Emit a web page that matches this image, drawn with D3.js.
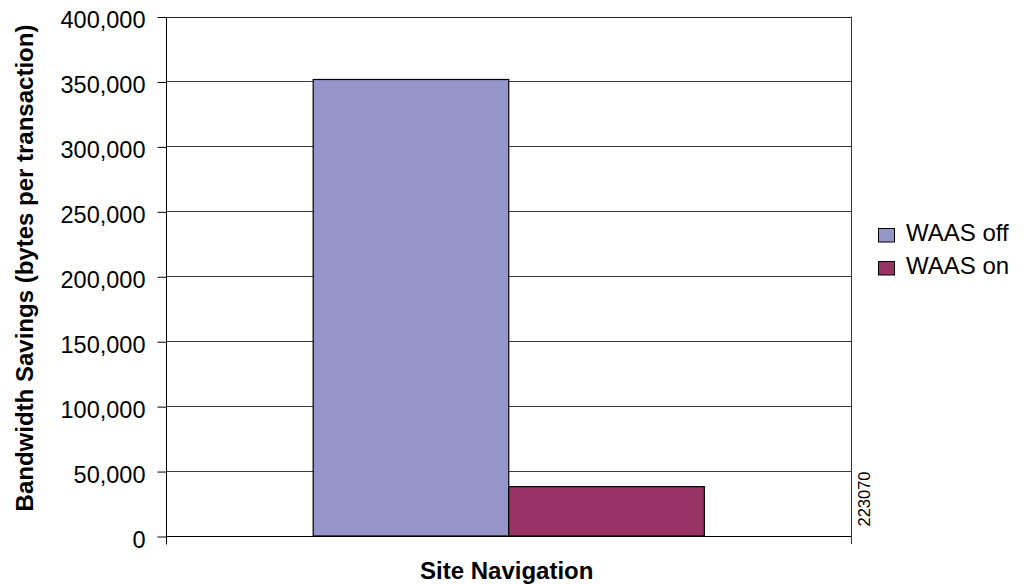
<!DOCTYPE html>
<html>
<head>
<meta charset="utf-8">
<script src="https://cdn.jsdelivr.net/npm/d3@7"></script>
<style>
  html, body { margin: 0; padding: 0; background: #fff; }
  svg { display: block; font-family: "Liberation Sans", Arial, sans-serif; }
</style>
</head>
<body>
<svg id="chart" width="1024" height="584"></svg>
<script>
const categories = ["Site Navigation"];
const seriesNames = ["WAAS off", "WAAS on"];
const seriesColors = ["#9595C9", "#993366"];
const waasOff = [351500];
const waasOn = [38000];
const yTicks = [0, 50000, 100000, 150000, 200000, 250000, 300000, 350000, 400000];
const yTitle = "Bandwidth Savings (bytes per transaction)";
const sideNote = "223070";

const svg = d3.select("#chart");
const L = 166.5, R = 851, T = 16.5, B = 536;

const y = d3.scaleLinear().domain([0, 400000]).range([B, T]);
const x0 = d3.scaleBand().domain(categories).range([L, R]).padding(0);
const x1 = d3.scaleBand().domain(seriesNames).range([0, x0.bandwidth()])
  .paddingInner(0).paddingOuter(0.75);

const data = categories.map((c, i) => ({ cat: c, values: [waasOff[i], waasOn[i]] }));

// gridlines
svg.append("g").selectAll("line").data(yTicks.filter(d => d > 0)).join("line")
  .attr("x1", L).attr("x2", R)
  .attr("y1", d => Math.round(y(d)) + 0.5).attr("y2", d => Math.round(y(d)) + 0.5)
  .attr("stroke", d => d === 400000 ? "#222" : "#3a3a3a").attr("stroke-width", 1);

// right border
svg.append("line").attr("x1", R + 0.5).attr("x2", R + 0.5).attr("y1", T).attr("y2", B + 8)
  .attr("stroke", "#333").attr("stroke-width", 1);

// bars
const g = svg.append("g");
data.forEach(d => {
  g.selectAll(null).data(d.values).join("rect")
    .attr("x", (v, j) => x0(d.cat) + x1(seriesNames[j]))
    .attr("y", v => y(v))
    .attr("width", x1.bandwidth())
    .attr("height", v => B - y(v))
    .attr("fill", (v, j) => seriesColors[j])
    .attr("stroke", "#000").attr("stroke-width", 1.2);
});

// y axis
const yAxis = d3.axisLeft(y).tickValues(yTicks).tickSize(9).tickPadding(12)
  .tickFormat(d3.format(","));
const ya = svg.append("g").attr("transform", `translate(${L},0.5)`).call(yAxis);
ya.select(".domain").attr("stroke", "#000").attr("d", `M0,${T}V${B + 8}`);
ya.selectAll(".tick line").attr("stroke", "#000");
ya.selectAll(".tick text").attr("font-family", "'Liberation Sans', Arial, sans-serif")
  .attr("font-size", 23.5).attr("fill", "#000").attr("dy", "0.45em");

// x axis baseline
svg.append("line").attr("x1", L).attr("x2", R).attr("y1", B + 0.5).attr("y2", B + 0.5)
  .attr("stroke", "#000").attr("stroke-width", 1.2);

// titles
svg.append("text").attr("x", (L + R) / 2 - 2).attr("y", 579).attr("text-anchor", "middle")
  .attr("font-size", 24).attr("font-weight", "bold").text(categories[0]);
svg.append("text").attr("transform", "translate(32.5,268) rotate(-90)")
  .attr("text-anchor", "middle").attr("font-size", 24).attr("font-weight", "bold").text(yTitle);
svg.append("text").attr("transform", "translate(869.5,499) rotate(-90)")
  .attr("text-anchor", "middle").attr("font-size", 16.5).text(sideNote);

// legend
const leg = svg.append("g");
seriesNames.forEach((s, i) => {
  const yy = 228 + i * 33;
  leg.append("rect").attr("x", 878.5).attr("y", yy + 0.5).attr("width", 16).attr("height", 13.5)
    .attr("fill", seriesColors[i]).attr("stroke", "#000").attr("stroke-width", 1);
  leg.append("text").attr("x", 906).attr("y", yy + 12.5).attr("font-size", 24).text(s);
});
</script>
</body>
</html>
